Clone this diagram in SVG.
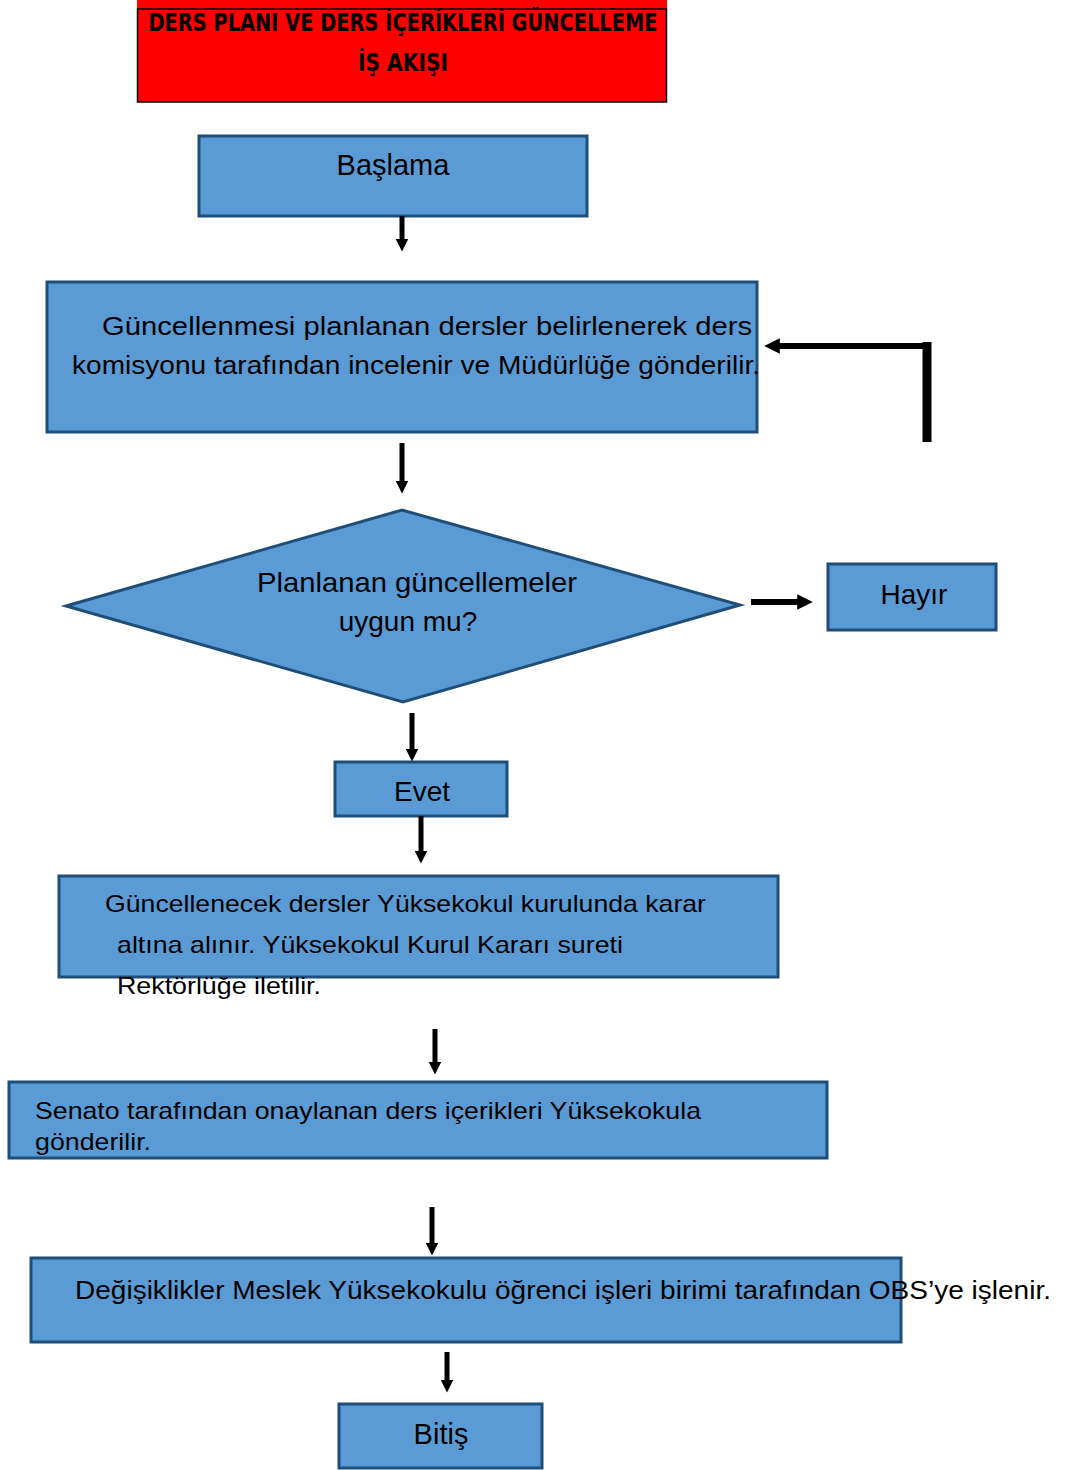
<svg xmlns="http://www.w3.org/2000/svg" width="1066" height="1470" viewBox="0 0 1066 1470">
<style>
.box{fill:#5B9BD5;stroke:#1F4E79;stroke-width:3}
.t{font-family:"Liberation Sans",Arial,sans-serif;font-size:26px;fill:#000}
.s{font-size:28px}
.tt{font-family:"DejaVu Sans Condensed","DejaVu Sans",sans-serif;font-weight:bold;font-size:24px;fill:#000}
.c{fill:none;stroke:#000;stroke-width:5}
</style>
<defs>
<marker id="ah" viewBox="0 0 10 10" refX="5" refY="5" markerWidth="2.6" markerHeight="2.6" orient="auto" markerUnits="strokeWidth">
<path d="M0,0 L10,5 L0,10 z" fill="#000"/>
</marker>
</defs>
<rect width="1066" height="1470" fill="#fff"/>
<g id="title">
<rect x="137" y="0" width="530" height="102" fill="#FF0000"/>
<rect x="137.5" y="9" width="529" height="93" fill="none" stroke="#000" stroke-width="1.5"/>
<text class="tt" x="403" y="31" text-anchor="middle" textLength="509" lengthAdjust="spacingAndGlyphs">DERS PLANI VE DERS İÇERİKLERİ GÜNCELLEME</text>
<text class="tt" x="403" y="71" text-anchor="middle" textLength="90" lengthAdjust="spacingAndGlyphs">İŞ AKIŞI</text>
</g>
<g id="baslama">
<rect class="box" x="199" y="136" width="388" height="80"/>
<text class="t" x="393" y="175" text-anchor="middle" style="font-size:29px">Başlama</text>
</g>
<g id="komisyon">
<rect class="box" x="47" y="282" width="710" height="150"/>
<text class="t" x="102" y="335" textLength="650" lengthAdjust="spacingAndGlyphs">Güncellenmesi planlanan dersler belirlenerek ders</text>
<text class="t" x="72" y="374" textLength="688" lengthAdjust="spacingAndGlyphs">komisyonu tarafından incelenir ve Müdürlüğe gönderilir.</text>
</g>
<g id="karar">
<polygon points="66,606 402,510 740,605 403,702" fill="#5B9BD5" stroke="#1F4E79" stroke-width="3"/>
<text class="t" x="417" y="592" text-anchor="middle" textLength="320" lengthAdjust="spacingAndGlyphs" style="font-size:28px">Planlanan güncellemeler</text>
<text class="t" x="408" y="631" text-anchor="middle" style="font-size:28px">uygun mu?</text>
</g>
<g id="hayir">
<rect class="box" x="828" y="564" width="168" height="66"/>
<text class="t s" x="914" y="604" text-anchor="middle">Hayır</text>
</g>
<g id="evet">
<rect class="box" x="335" y="762" width="172" height="54"/>
<text class="t s" x="422" y="801" text-anchor="middle">Evet</text>
</g>
<g id="kurul">
<rect class="box" x="59" y="876" width="719" height="101"/>
<text class="t" x="105" y="912" style="font-size:24px" textLength="601" lengthAdjust="spacingAndGlyphs">Güncellenecek dersler Yüksekokul kurulunda karar</text>
<text class="t" x="117" y="953" style="font-size:24px" textLength="506" lengthAdjust="spacingAndGlyphs">altına alınır. Yüksekokul Kurul Kararı sureti</text>
<text class="t" x="117" y="994" style="font-size:24px" textLength="204" lengthAdjust="spacingAndGlyphs">Rektörlüğe iletilir.</text>
</g>
<g id="senato">
<rect class="box" x="9" y="1082" width="818" height="76"/>
<text class="t" x="35" y="1119" style="font-size:24px" textLength="666" lengthAdjust="spacingAndGlyphs">Senato tarafından onaylanan ders içerikleri Yüksekokula</text>
<text class="t" x="35" y="1150" style="font-size:24px" textLength="116" lengthAdjust="spacingAndGlyphs">gönderilir.</text>
</g>
<g id="obs">
<rect class="box" x="31" y="1258" width="870" height="84"/>
<text class="t" x="75" y="1299" textLength="976" lengthAdjust="spacingAndGlyphs">Değişiklikler Meslek Yüksekokulu öğrenci işleri birimi tarafından OBS’ye işlenir.</text>
</g>
<g id="bitis">
<rect class="box" x="339" y="1404" width="203" height="64"/>
<text class="t" x="441" y="1444" text-anchor="middle" style="font-size:29px">Bitiş</text>
</g>
<g id="connectors">
<line class="c" x1="402" y1="216" x2="402" y2="245" marker-end="url(#ah)"/>
<line class="c" x1="402" y1="443" x2="402" y2="487" marker-end="url(#ah)"/>
<line class="c" x1="927" y1="442" x2="927" y2="342" style="stroke-width:9"/>
<polyline class="c" points="931,346 772,346" style="stroke-width:6" marker-end="url(#ah)"/>
<line class="c" x1="751" y1="602" x2="805" y2="602" style="stroke-width:6" marker-end="url(#ah)"/>
<line class="c" x1="412" y1="713" x2="412" y2="755" marker-end="url(#ah)"/>
<line class="c" x1="421" y1="816" x2="421" y2="857" marker-end="url(#ah)"/>
<line class="c" x1="435" y1="1029" x2="435" y2="1068" marker-end="url(#ah)"/>
<line class="c" x1="432" y1="1207" x2="432" y2="1249" marker-end="url(#ah)"/>
<line class="c" x1="447" y1="1352" x2="447" y2="1386" marker-end="url(#ah)"/>
</g>
</svg>
